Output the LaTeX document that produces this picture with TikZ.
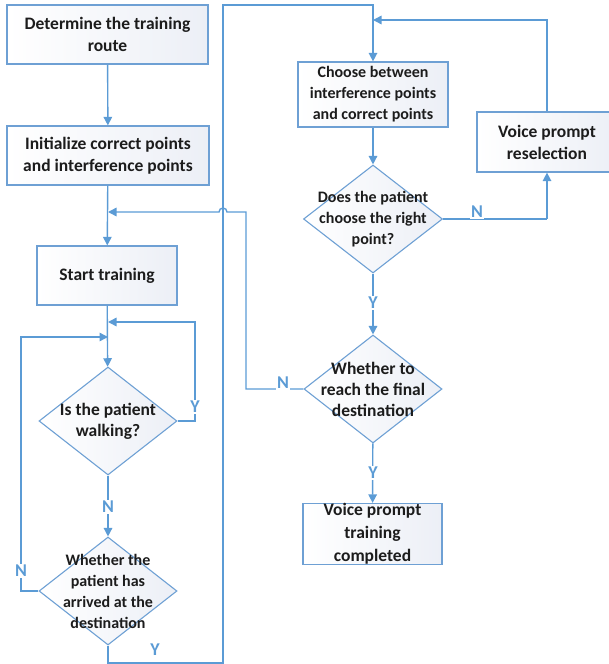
\documentclass[tikz,border=0pt]{standalone}
\usepackage{fontspec}
\setmainfont{Carlito}
\usetikzlibrary{positioning,shapes.geometric,arrows.meta}

\definecolor{flowblue}{RGB}{91,155,213}
\definecolor{edgeblue}{RGB}{110,160,212}
\definecolor{shadeblue}{RGB}{236,239,246}
\definecolor{txt}{RGB}{28,28,28}

\tikzset{
  box/.style={draw=edgeblue, line width=1.2pt, left color=white, right color=shadeblue,
    minimum width=#1, minimum height=59pt, inner sep=0pt, align=center, text=txt,
    font=\bfseries\fontsize{17.5}{22}\selectfont},
  decision/.style={diamond, draw=edgeblue, line width=1.1pt, left color=white, right color=shadeblue,
    minimum width=138pt, minimum height=108pt, inner sep=0pt},
  qtext/.style={align=center, text=txt, inner sep=0pt, font=\bfseries\fontsize{#1}{21}\selectfont},
  flow/.style={draw=flowblue, line width=1.4pt, -{Triangle[length=8.5pt,width=8.5pt]}},
  line/.style={draw=flowblue, line width=1.4pt},
  lbl/.style={text=flowblue, fill=white, inner sep=1pt, font=\bfseries\fontsize{18}{18}\selectfont}
}

\begin{document}
\begin{tikzpicture}[x=1pt, y=-1pt]
  \clip (0,0) rectangle (609,664);

  % left column
  \node[box=201pt] (route) at (107.5,34.5) {Determine the training\\route};
  \node[box=202pt] (init) at (108,155.5) {Initialize correct points\\and interference points};
  \node[box=140pt] (start) at (107,275.5) {Start training};
  \node[decision] (walk) at (108,421) {};
  \node[qtext=17.5] (walkq) at (walk) {Is the patient\\walking?};
  \node[decision] (arrive) at (108,591) {};
  \node[qtext=16] (arriveq) at (arrive) {Whether the\\patient has\\arrived at the\\destination};

  % right column
  \node[box=150pt, minimum height=65pt, font=\bfseries\fontsize{16}{21}\selectfont] (choose) at (373,94.5)
    {Choose between\\interference points\\and correct points};
  \node[decision, minimum width=139pt] (right) at (373,219) {};
  \node[qtext=16] (rightq) at (right) {Does the patient\\choose the right\\point?};
  \node[box=140pt, minimum height=60pt] (resel) at (547,142) {Voice prompt\\reselection};
  \node[decision] (reach) at (373,389) {};
  \node[qtext=17.5] (reachq) at (reach) {Whether to\\reach the final\\destination};
  \node[box=139pt, minimum height=60pt, font=\bfseries\fontsize{17.5}{23}\selectfont] (done) at (372.5,534)
    {Voice prompt\\training\\completed};

  % merge points and corners
  \coordinate (m1) at (108,212);
  \coordinate (m2) at (108,322);
  \coordinate (m3) at (108,337);
  \coordinate (m4) at (373,20);
  \coordinate (hop) at (227,212);
  \coordinate (nx) at (246,389);
  \coordinate (yx) at (195,421);
  \coordinate (nl) at (21,591);
  \coordinate (yb) at (108,663);
  \coordinate (yr) at (223,663);
  \coordinate (yt) at (223,5);
  \coordinate (ct) at (373,5);
  \coordinate (rx) at (547,219);

  \draw[flow] (route) -- (init);
  \draw[flow] (init) -- (start);
  \draw[flow] (start) -- (walk);
  \draw[flow] (walk) -- (arrive);
  \draw[flow] (choose) -- (right);
  \draw[flow] (right) -- (reach);
  \draw[flow] (reach) -- (done);

  \draw[flow] (walk.east) -- (yx) -- (yx |- m2) -- (m2);
  \draw[flow] (arrive.west) -- (nl) -- (nl |- m3) -- (m3);
  \draw[flow] (arrive.south) -- (yb) -- (yr) -- (yt) -- (ct) -- (choose.north);
  \draw[flow] (reach.west) -- (nx) -- (nx |- m1) -- (hop)
    arc[start angle=0, end angle=180, radius=4pt] -- (m1);
  \draw[line] (right.east) -- (rx);
  \draw[flow] (rx) -- (resel.south);
  \draw[flow] (resel.north) -- (resel.north |- m4) -- (m4);

  % branch labels
  \node[lbl] (y1) at (195,407) {Y};
  \node[lbl] (n1) at (108,507) {N};
  \node[lbl] (n2) at (21,571) {N};
  \node[lbl] (y2) at (155,650) {Y};
  \node[lbl] (n3) at (477,212) {N};
  \node[lbl] (y3) at (373,303) {Y};
  \node[lbl] (n4) at (283,383) {N};
  \node[lbl] (y4) at (373,473) {Y};
\end{tikzpicture}
\end{document}
